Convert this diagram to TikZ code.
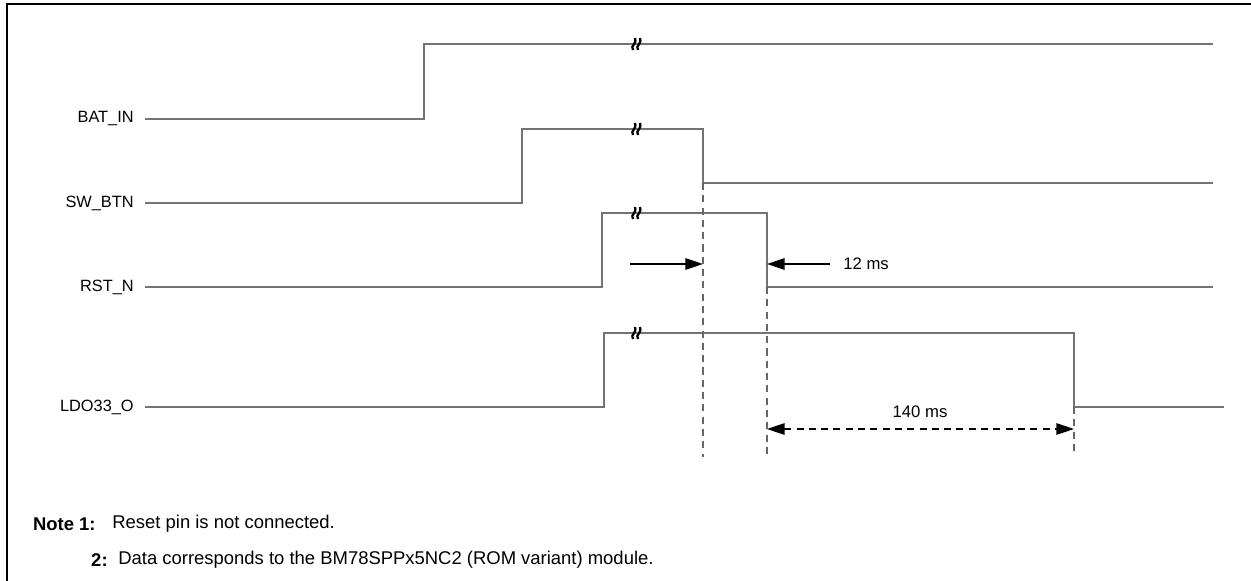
\documentclass[tikz,border=0pt]{standalone}
\usepackage{fontspec}
\setmainfont{Liberation Sans}
\usetikzlibrary{arrows.meta}

\tikzset{
  wave/.style={draw=black!55, line width=1.1pt},
  guide/.style={draw=black!60, line width=0.8pt, dash pattern=on 4pt off 3pt},
  dimarrow/.style={line width=0.8pt, -{Triangle[length=10pt,width=6.5pt]}},
  signame/.style={font=\fontsize{9.3}{11}\selectfont, anchor=east, inner sep=0pt},
  timelabel/.style={font=\fontsize{9.5}{11}\selectfont, inner sep=0pt},
  notetext/.style={font=\fontsize{10.5}{12}\selectfont, anchor=west, inner sep=0pt},
  notenum/.style={font=\fontsize{10.5}{12}\selectfont\bfseries, anchor=east, inner sep=0pt},
  brk/.pic={
    \draw[line width=1.3pt] (-4,6) .. controls (-7,1) and (0,1) .. (-2,-6);
    \draw[line width=1.3pt] (1,6) .. controls (-2,1) and (5,1) .. (3,-6);
  }
}

\begin{document}
\begin{tikzpicture}[x=0.02cm,y=-0.02cm]
\useasboundingbox (0,0) rectangle (1251,581);

% frame
\draw[line width=1.7pt] (7,581) -- (7,4) -- (1251,4);

% signal names
\node[signame] (bat) at (134,119) {BAT\_IN};
\node[signame] (sw) at (134,203) {SW\_BTN};
\node[signame] (rst) at (134,287) {RST\_N};
\node[signame] (ldo) at (134,407) {LDO33\_O};

% waveforms
\draw[wave] (145,119) -- (424,119) -- (424,44) -- (1213,44);
\draw[wave] (145,203) -- (522,203) -- (522,129) -- (703,129) -- (703,183) -- (1213,183);
\draw[wave] (145,287) -- (602,287) -- (602,213) -- (767,213) -- (767,287) -- (1213,287);
\draw[wave] (145,407) -- (604,407) -- (604,333) -- (1074,333) -- (1074,407) -- (1224,407);

% breaks
\pic at (637,44) {brk};
\pic at (637,129) {brk};
\pic at (637,213) {brk};
\pic at (637,333) {brk};

% timing marks
\coordinate (swfall) at (703,183);
\coordinate (rstfall) at (767,287);
\coordinate (ldofall) at (1074,407);
\draw[guide] (swfall) -- (703,457);
\draw[guide] (rstfall) -- (767,457);
\draw[guide] (ldofall) -- (1074,455);

\coordinate (a1) at (630,264);
\coordinate (a2) at (703,264);
\coordinate (b1) at (830,264);
\coordinate (b2) at (767,264);
\draw[dimarrow] (a1) -- (a2);
\draw[dimarrow] (b1) -- (b2);
\node[timelabel, anchor=west] (t12) at (843,264) {12 ms};

\coordinate (c1) at (767,429);
\coordinate (c2) at (1074,429);
\draw[dimarrow, {Triangle[length=10pt,width=6.5pt]}-{Triangle[length=10pt,width=6.5pt]}, dash pattern=on 4pt off 3pt] (c1) -- (c2);
\node[timelabel] (t140) at (920,412) {140 ms};

% notes
\node[notenum] (n1) at (96,524) {Note 1:};
\node[notetext] (n1t) at (112,524) {Reset pin is not connected.};
\node[notenum] (n2) at (108,560) {2:};
\node[notetext] (n2t) at (118,560) {Data corresponds to the BM78SPPx5NC2 (ROM variant) module.};
\end{tikzpicture}
\end{document}
